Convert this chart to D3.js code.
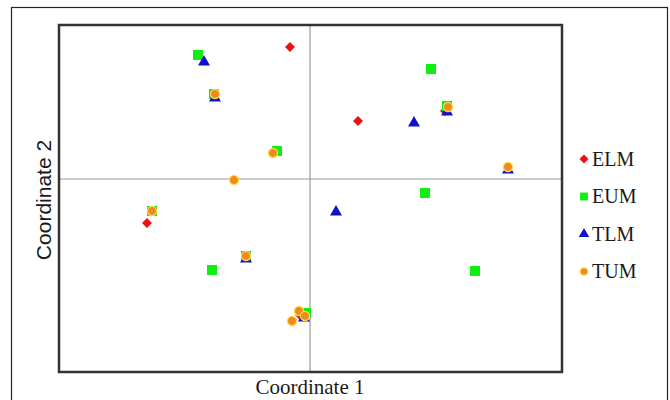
<!DOCTYPE html>
<html>
<head>
<meta charset="UTF-8">
<title>PCoA</title>
<script src="https://cdn.jsdelivr.net/npm/d3@7"></script>
<style>
  body { margin: 0; background: #fff; }
</style>
</head>
<body>
<div id="chart"></div>
<script>
// groups, drawn in this order (later on top)
const groups = ["ELM", "EUM", "TLM", "TUM"];
const colors = { ELM: "#ee1111", EUM: "#11ee11", TLM: "#1111cc", TUM: "#f08a1c" };

// coordinates
const elm = [[-0.20, 1.32], [0.48, 0.58], [-1.63, -0.44], [1.35, 0.68], [-0.96, 0.85],
             [-0.64, -0.77], [1.98, 0.12], [-0.10, -1.36], [-1.58, -0.32]];
const eum = [[-1.12, 1.24], [-0.96, 0.85], [1.21, 1.10], [1.37, 0.73], [-0.33, 0.28],
             [1.15, -0.14], [-1.58, -0.32], [-0.98, -0.91], [-0.64, -0.77], [1.65, -0.92],
             [-0.04, -1.34]];
const tlm = [[-1.06, 1.17], [-0.95, 0.81], [1.37, 0.67], [1.04, 0.56], [1.98, 0.09],
             [0.26, -0.33], [-0.64, -0.80], [-0.06, -1.39]];
const tum = [[-0.95, 0.85], [1.38, 0.72], [-0.37, 0.26], [1.98, 0.12], [-0.76, -0.01],
             [-1.58, -0.32], [-0.64, -0.77], [-0.11, -1.32], [-0.18, -1.42], [-0.05, -1.37]];
const series = { ELM: elm, EUM: eum, TLM: tlm, TUM: tum };

const W = 670, H = 400;
const plot = { left: 59, right: 562, top: 25, bottom: 372 };

const svg = d3.select("#chart").append("svg")
  .attr("width", W).attr("height", H);

// outer frame
svg.append("rect")
  .attr("x", 11.5).attr("y", 7.5)
  .attr("width", 656).attr("height", 400)
  .attr("fill", "none").attr("stroke", "#222").attr("stroke-width", 1.2);

const x = d3.scaleLinear().domain([-2.51, 2.52]).range([plot.left, plot.right]);
const y = d3.scaleLinear().domain([-1.93, 1.54]).range([plot.bottom, plot.top]);

// zero lines
svg.append("line")
  .attr("x1", x(0)).attr("x2", x(0))
  .attr("y1", plot.top).attr("y2", plot.bottom)
  .attr("stroke", "#999").attr("stroke-width", 1.2);
svg.append("line")
  .attr("x1", plot.left).attr("x2", plot.right)
  .attr("y1", y(0)).attr("y2", y(0))
  .attr("stroke", "#999").attr("stroke-width", 1.2);

// plot border
svg.append("rect")
  .attr("x", plot.left).attr("y", plot.top)
  .attr("width", plot.right - plot.left).attr("height", plot.bottom - plot.top)
  .attr("fill", "none").attr("stroke", "#333").attr("stroke-width", 2.5);

// diamond = square turned 45 degrees
const symType = { ELM: d3.symbolSquare, EUM: d3.symbolSquare, TLM: d3.symbolTriangle, TUM: d3.symbolCircle };
const rot = g => g === "ELM" ? " rotate(45)" : "";
const markSize = { ELM: 50, EUM: 100, TLM: 62, TUM: 66 };
const legendSize = { ELM: 40, EUM: 62, TLM: 48, TUM: 44 };

groups.forEach(g => {
  svg.append("g").selectAll("path")
    .data(series[g])
    .join("path")
    .attr("transform", d => `translate(${x(d[0])},${y(d[1])})` + rot(g))
    .attr("d", d3.symbol(symType[g], markSize[g]))
    .attr("fill", colors[g])
    .attr("stroke", g === "TUM" ? "#ffd84a" : "none")
    .attr("stroke-width", 1.2);
});

// axis titles
svg.append("text")
  .attr("x", x(0)).attr("y", 394)
  .attr("text-anchor", "middle")
  .attr("font-family", "Liberation Serif, Times New Roman, serif")
  .attr("font-size", 21).attr("fill", "#1a1a1a")
  .text("Coordinate 1");

svg.append("text")
  .attr("transform", `translate(51,200) rotate(-90)`)
  .attr("text-anchor", "middle")
  .attr("font-family", "Liberation Sans, Arial, sans-serif")
  .attr("font-size", 21).attr("fill", "#1a1a1a")
  .text("Coordinate 2");

// legend
const legend = svg.append("g");
groups.forEach((g, i) => {
  const ly = 159 + i * 37.5;
  legend.append("path")
    .attr("transform", `translate(584,${ly})` + rot(g))
    .attr("d", d3.symbol(symType[g], legendSize[g])())
    .attr("fill", colors[g])
    .attr("stroke", g === "TUM" ? "#ffd84a" : "none");
  legend.append("text")
    .attr("x", 592).attr("y", ly + 6.5)
    .attr("font-family", "Liberation Serif, Times New Roman, serif")
    .attr("font-size", 20).attr("fill", "#1a1a1a")
    .text(g);
});
</script>
</body>
</html>
